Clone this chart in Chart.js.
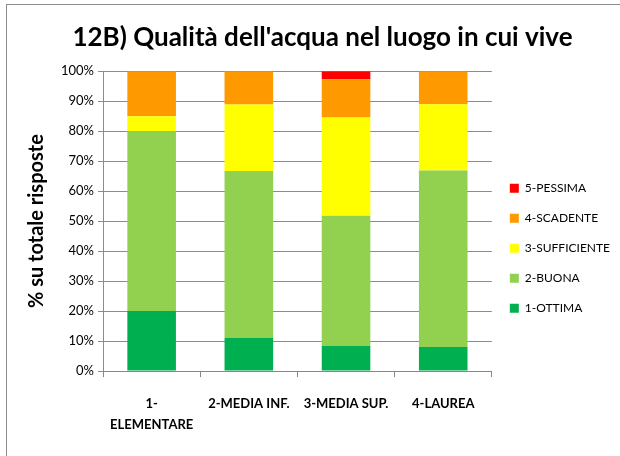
<!DOCTYPE html>
<html>
<head>
<meta charset="utf-8">
<script src="https://cdn.jsdelivr.net/npm/chart.js@4"></script>
<style>
  body { margin: 0; background: #fff; }
  #frame {
    position: absolute; left: 6px; top: 4px; width: 614px; height: 452px;
    border-left: 1px solid #8c8c8c; border-top: 1px solid #8c8c8c;
  }
</style>
</head>
<body>
<div id="frame"><canvas id="waterChart" width="613" height="451"></canvas></div>
<script>
// Categories and values (% of answers)
const categories = [['1-', 'ELEMENTARE'], '2-MEDIA INF.', '3-MEDIA SUP.', '4-LAUREA'];
const seriesNames = ['1-OTTIMA', '2-BUONA', '3-SUFFICIENTE', '4-SCADENTE', '5-PESSIMA'];
const ottima = [20.0, 11.1, 8.4, 8.0];
const buona = [60.0, 55.6, 43.4, 58.9];
const sufficiente = [5.0, 22.2, 32.8, 22.1];
const scadente = [15.0, 11.1, 12.7, 11.0];
const pessima = [0, 0, 2.7, 0];
const colors = ['#00B050', '#92D050', '#FFFF00', '#FF9900', '#FF0000'];

const allValues = [ottima, buona, sufficiente, scadente, pessima];

const data = {
    labels: categories,
    datasets: allValues.map((vals, i) => ({
        label: seriesNames[i],
        data: vals,
        backgroundColor: colors[i],
        borderWidth: 0,
        barPercentage: 0.5,
        categoryPercentage: 1.0
    }))
};

const font = "Lato, 'Open Sans', sans-serif";

const config = {
    type: 'bar',
    data: data,
    options: {
        responsive: false,
        animation: false,
        layout: { padding: { left: 18, right: 0, top: 17, bottom: 4 } },
        plugins: {
            title: {
                display: true,
                text: "12B) Qualità dell'acqua nel luogo in cui vive",
                color: '#000',
                font: { family: font, size: 26, weight: 'bold' },
                padding: { top: 0, bottom: 18 }
            },
            legend: {
                position: 'right',
                reverse: true,
                title: { display: true, text: ' ', padding: { top: 8, bottom: 0 }, font: { size: 12 } },
                labels: {
                    color: '#000',
                    font: { family: font, size: 12 },
                    boxWidth: 9,
                    boxHeight: 9,
                    padding: 18
                }
            },
            tooltip: { enabled: false }
        },
        scales: {
            x: {
                stacked: true,
                grid: { drawOnChartArea: false, color: '#888', tickLength: 6 },
                border: { color: '#888' },
                ticks: {
                    color: '#000',
                    maxRotation: 0,
                    autoSkip: false,
                    padding: 16,
                    font: { family: font, size: 13, weight: 'bold', lineHeight: 1.65 }
                }
            },
            y: {
                stacked: true,
                min: 0,
                max: 100,
                grid: { color: '#8c8c8c', tickLength: 5 },
                border: { color: '#8c8c8c' },
                ticks: {
                    stepSize: 10,
                    color: '#000',
                    padding: 4,
                    font: { family: font, size: 13 },
                    callback: v => v + '%'
                },
                title: {
                    display: true,
                    text: '% su totale risposte',
                    color: '#000',
                    font: { family: font, size: 20, weight: 'bold' },
                    padding: { top: 0, bottom: 8 }
                }
            }
        }
    }
};

const ctx = document.getElementById('waterChart').getContext('2d');
const waterChart = new Chart(ctx, config);
</script>
</body>
</html>
